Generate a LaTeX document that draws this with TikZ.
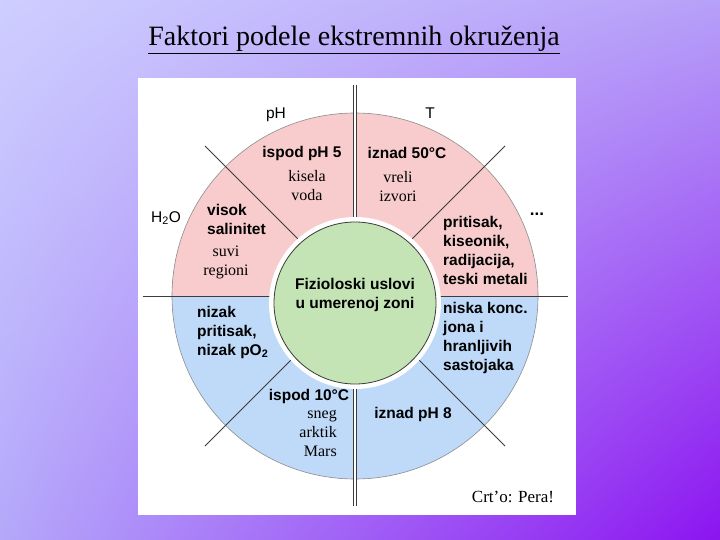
\documentclass[tikz,border=0pt]{standalone}
\usepackage{fontspec}
\setmainfont{Liberation Serif}
\setsansfont{Liberation Sans}
\usetikzlibrary{shapes,shadings}
\definecolor{pinkf}{RGB}{248,204,204}
\definecolor{bluef}{RGB}{190,218,248}
\definecolor{greenf}{RGB}{196,228,182}
\definecolor{linec}{RGB}{60,60,60}
\definecolor{bgul}{RGB}{206,206,255}
\definecolor{bgur}{RGB}{182,160,248}
\definecolor{bgll}{RGB}{180,168,250}
\definecolor{bglr}{RGB}{140,20,240}
\tikzstyle{cond} = [font=\sffamily\bfseries\fontsize{15.5}{19}\selectfont, align=left, inner sep=0pt]
\tikzstyle{note} = [font=\fontsize{16}{19}\selectfont, align=center, inner sep=0pt]
\tikzstyle{factor} = [font=\sffamily\fontsize{15.5}{18}\selectfont, inner sep=0pt]
\tikzstyle{sep} = [draw=linec, line width=0.8pt]

\begin{document}
\begin{tikzpicture}[x=1pt,y=-1pt]
	% background and panel
	\shade[upper left=bgul, upper right=bgur, lower left=bgll, lower right=bglr] (0,0) rectangle (720,540);
	\fill[white] (138,78) rectangle (576,515);
	\node[font=\fontsize{28}{32}\selectfont, inner sep=0pt] (title) at (354,40) {\underline{Faktori podele ekstremnih okruženja}};

	% the two halves
	\coordinate (c) at (355,296);
	\fill[pinkf] (c) -- ++(180:183) arc[start angle=180,end angle=360,radius=183] -- cycle;
	\fill[bluef] (c) -- ++(0:183) arc[start angle=0,end angle=180,radius=183] -- cycle;
	\draw[draw=black!45, line width=0.6pt] (c) circle[radius=183];

	% separators
	\coordinate (hl) at (143,296);
	\coordinate (hr) at (568,296);
	\coordinate (vt) at (355,85);
	\coordinate (vb) at (355,506);
	\coordinate (d1a) at (205,146);
	\coordinate (d1b) at (505,446);
	\coordinate (d2a) at (505,146);
	\coordinate (d2b) at (205,446);
	\draw[sep] (hl) -- (hr);
	\draw[sep] (d1a) -- (d1b);
	\draw[sep] (d2a) -- (d2b);
	\draw[linec, line width=0.7pt, double=white, double distance=2pt] (vt) -- (vb);

	% centre
	\coordinate (m) at (355,303);
	\fill[white] (m) circle[radius=86];
	\node[circle, fill=greenf, draw=linec, line width=0.8pt, minimum size=162pt, inner sep=0pt] (core) at (m) {};
	\node[cond, align=center] (fiz) at (355,295) {Fizioloski uslovi\\u umerenoj zoni};

	% factor names
	\node[factor] (ph) at (276,115) {pH};
	\node[factor] (t) at (430,113) {T};
	\node[factor] (h2o) at (166,218) {H\textsubscript{2}O};
	\node[factor, font=\sffamily\bfseries\fontsize{17}{18}\selectfont] (more) at (537,214) {...};

	% sectors
	\node[cond] (acid) at (302,153) {ispod pH 5};
	\node[note] (acidx) at (307,186) {kisela\\voda};
	\node[cond] (hot) at (407,153) {iznad 50°C};
	\node[note] (hotx) at (398,187) {vreli\\izvori};
	\node[cond, anchor=west] (salt) at (207,219) {visok\\salinitet};
	\node[note] (saltx) at (226,262) {suvi\\regioni};
	\node[cond, anchor=west] (press) at (443,250) {pritisak,\\kiseonik,\\radijacija,\\teski metali};
	\node[cond, anchor=west] (low) at (197,332) {nizak\\pritisak,\\nizak pO\textsubscript{2}};
	\node[cond, anchor=west] (ions) at (443,338) {niska konc.\\jona i\\hranljivih\\sastojaka};
	\node[cond] (cold) at (309,396) {ispod 10°C};
	\node[note, anchor=east, align=right] (coldx) at (337,433) {sneg\\arktik\\Mars};
	\node[cond] (alk) at (413,414) {iznad pH 8};
	\node[font=\fontsize{17}{18}\selectfont] (sign) at (513,497) {Crt’o: Pera!};
\end{tikzpicture}
\end{document}
